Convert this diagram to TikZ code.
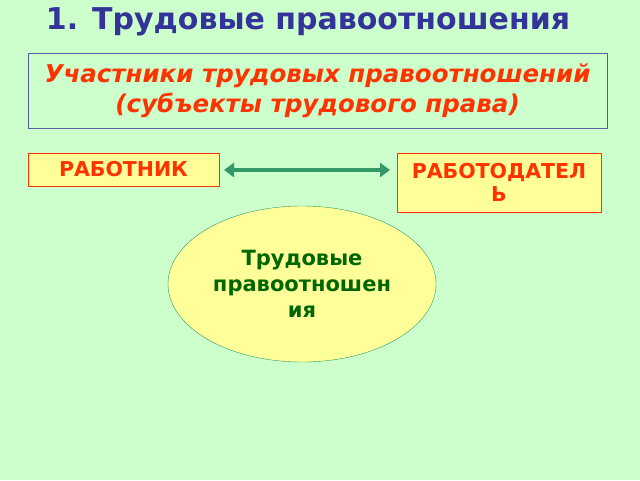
\documentclass[tikz,border=0pt]{standalone}
\usepackage{fontspec}
\setmainfont{DejaVu Sans}
\usetikzlibrary{shapes.geometric,arrows.meta}
\definecolor{bg}{HTML}{CCFFCC}
\definecolor{ttl}{HTML}{333399}
\definecolor{yel}{HTML}{FFFF99}
\definecolor{rd}{HTML}{FF3300}
\definecolor{gr}{HTML}{006600}
\definecolor{arr}{HTML}{339966}
\begin{document}
\begin{tikzpicture}[x=1pt,y=-1pt,
  rbox/.style={draw=rd,fill=yel,text=rd,font=\bfseries\fontsize{20.5}{23}\selectfont,align=center}]
\useasboundingbox[fill=bg] (0,0) rectangle (640,480);
\node[text=ttl,font=\bfseries\fontsize{30}{32}\selectfont] (t) at (308,22) {1. Трудовые правоотношения};
\node[draw=ttl!80,minimum width=579pt,minimum height=75pt,text=rd,align=center,
  font=\bfseries\itshape\fontsize{24.5}{30}\selectfont] (u) at (317.5,90.5)
  {Участники трудовых правоотношений\\(субъекты трудового права)};
\node[rbox,minimum width=191pt,minimum height=33pt] (w) at (123.5,169.5) {РАБОТНИК};
\node[rbox,text width=196pt,minimum height=59pt,inner sep=4pt,anchor=north] (e) at (499,153) {РАБОТОДАТЕЛ\\Ь};
\coordinate (a1) at (224,170); \coordinate (a2) at (390,170);
\draw[arr,line width=4pt,{Triangle[length=10pt,width=14pt]}-{Triangle[length=10pt,width=14pt]}] (a1) -- (a2);
\node[ellipse,draw=arr,fill=yel,minimum width=268pt,minimum height=156pt,text=gr,align=center,
  font=\bfseries\fontsize{21}{26}\selectfont] (r) at (302,284) {Трудовые\\правоотношен\\ия};
\end{tikzpicture}
\end{document}
